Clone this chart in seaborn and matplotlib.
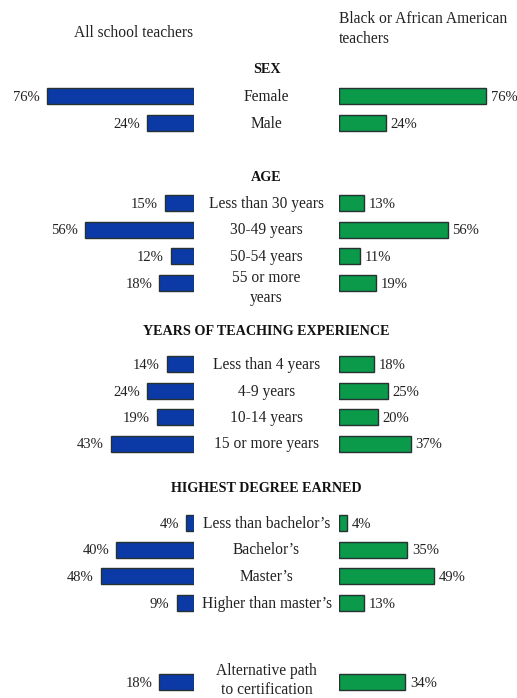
import numpy as np
import pandas as pd
import matplotlib
matplotlib.use("Agg")
import matplotlib.pyplot as plt
import seaborn as sns

# ---------------- data ----------------
sections = ["SEX", "AGE", "YEARS OF TEACHING EXPERIENCE", "HIGHEST DEGREE EARNED", ""]
categories = [
    ["Female", "Male"],
    ["Less than 30 years", "30-49 years", "50-54 years", "55 or more\nyears"],
    ["Less than 4 years", "4-9 years", "10-14 years", "15 or more years"],
    ["Less than bachelor\u2019s", "Bachelor\u2019s", "Master\u2019s", "Higher than master\u2019s"],
    ["Alternative path\nto certification"],
]
all_teachers = [
    [76, 24],
    [15, 56, 12, 18],
    [14, 24, 19, 43],
    [4, 40, 48, 9],
    [18],
]
black_teachers = [
    [76, 24],
    [13, 56, 11, 19],
    [18, 25, 20, 37],
    [4, 35, 49, 13],
    [34],
]
col_left = "All school teachers"
col_right = "Black or African American\nteachers"

# ---------------- layout (pixels) ----------------
W, H = 517, 698
header_y = [68, 176, 330, 487, None]
first_row_y = [96, 203, 364, 523, 682]
twoline_shift = [0, 4.5, 0, 0, -2.5]   # vertical shift of two-line labels per section
row_step = 26.5
left_zero = 194
right_zero = 339
px_per_pct = 1.94
bar_h = 16

BLUE = "#0b3aa6"
GREEN = "#0a9a4a"
EDGE = "#263232"
FONT = "Liberation Serif"

rows = []
for s, cats in enumerate(categories):
    for i, c in enumerate(cats):
        rows.append({"section": s, "category": c,
                     "all": all_teachers[s][i], "black": black_teachers[s][i],
                     "y": first_row_y[s] + i * row_step})
df = pd.DataFrame(rows)

sns.set_theme(style="white")
plt.rcParams["font.family"] = [FONT, "DejaVu Serif"]

fig = plt.figure(figsize=(W / 100, H / 100), dpi=100)
fig.patch.set_facecolor("white")

axL = fig.add_axes([0, 0, left_zero / W, 1])
axR = fig.add_axes([right_zero / W, 0, (W - right_zero) / W, 1])
axT = fig.add_axes([0, 0, 1, 1], zorder=-1)

ys = np.sort(df["y"].values)
min_gap = np.min(np.diff(ys))
wid = bar_h / min_gap

sns.barplot(data=df, x="all", y="y", orient="h", native_scale=True, color=BLUE,
            saturation=1, edgecolor=EDGE, linewidth=1, width=wid, ax=axL, errorbar=None)
sns.barplot(data=df, x="black", y="y", orient="h", native_scale=True, color=GREEN,
            saturation=1, edgecolor=EDGE, linewidth=1, width=wid, ax=axR, errorbar=None)

axL.set_xlim(left_zero / px_per_pct, 0)
axR.set_xlim(0, (W - right_zero) / px_per_pct)
for ax in (axL, axR):
    ax.set_ylim(H, 0)
    ax.axis("off")
    ax.patch.set_alpha(0)
axT.set_xlim(0, W)
axT.set_ylim(H, 0)
axT.axis("off")

fs_pct = 10.5
fs_cat = 11.2
base_off = 5  # px from visual centre to baseline
line_gap = 19.5
cx = (left_zero + right_zero) / 2
for _, r in df.iterrows():
    axL.annotate(f"{r['all']}%", (r["all"], r["y"]), xytext=(-5, -base_off * 0.72),
                 textcoords="offset points", ha="right", va="baseline",
                 fontsize=fs_pct, color="#222222")
    axR.annotate(f"{r['black']}%", (r["black"], r["y"]), xytext=(3.5, -base_off * 0.72),
                 textcoords="offset points", ha="left", va="baseline",
                 fontsize=fs_pct, color="#222222")
    if "\n" in r["category"]:
        l1, l2 = r["category"].split("\n")
        mid = r["y"] + twoline_shift[r["section"]]
        axT.text(cx, mid - line_gap / 2 + base_off, l1, ha="center", va="baseline",
                 fontsize=fs_cat, color="#222222")
        axT.text(cx, mid + line_gap / 2 + base_off, l2, ha="center", va="baseline",
                 fontsize=fs_cat, color="#222222")
    else:
        axT.text(cx, r["y"] + base_off, r["category"], ha="center", va="baseline",
                 fontsize=fs_cat, color="#222222")

for s, hy in enumerate(header_y):
    if hy is not None:
        axT.text(cx, hy + base_off, sections[s], ha="center",
                 va="baseline", fontsize=10.2, fontweight="bold", color="#111111")

axT.text(133, 32 + base_off, col_left, ha="center", va="baseline", fontsize=fs_cat, color="#222222")
l1, l2 = col_right.split("\n")
axT.text(right_zero, 18 + base_off, l1, ha="left", va="baseline", fontsize=fs_cat, color="#222222")
axT.text(right_zero, 38 + base_off, l2, ha="left", va="baseline", fontsize=fs_cat, color="#222222")

fig.savefig("out.png", dpi=100, facecolor="white")
